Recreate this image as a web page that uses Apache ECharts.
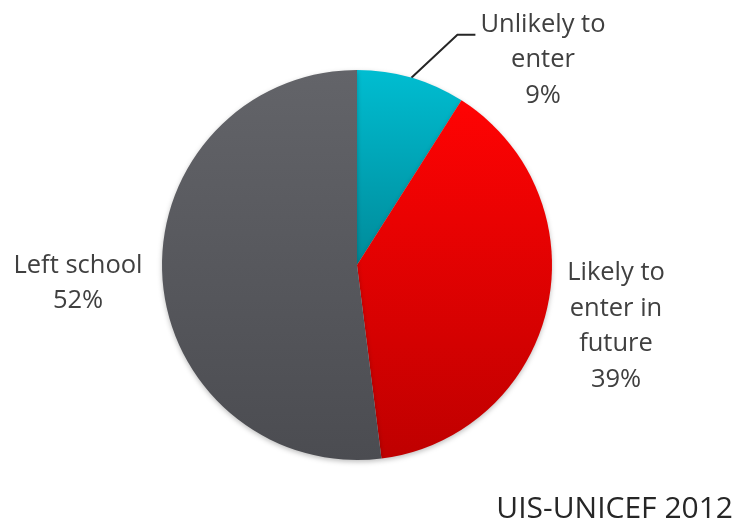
<!DOCTYPE html>
<html>
<head>
<meta charset="utf-8">
<script src="https://cdn.jsdelivr.net/npm/echarts@6/dist/echarts.min.js"></script>
<style>
  html, body { margin: 0; padding: 0; background: #ffffff; }
  #chart { width: 738px; height: 525px; }
</style>
</head>
<body>
<div id="chart"></div>
<script>
// Out-of-school children by likelihood of entering school
const categories = ['Unlikely to\nenter', 'Likely to\nenter in\nfuture', 'Left school'];
const shares = [9, 39, 52];
const sourceNote = 'UIS-UNICEF 2012';

// Slice colours: top and bottom stops of each vertical gradient
const sliceTop = ['#00bdd1', '#ff0303', '#636469'];
const sliceBottom = ['#008a99', '#bf0000', '#4b4c51'];

// Label centres for each slice
const labelSpots = [[543, 60], [616, 326], [78, 283]];

const chart = echarts.init(document.getElementById('chart'), null, { renderer: 'canvas' });

const data = categories.map((name, i) => ({
  name: name,
  value: shares[i],
  itemStyle: {
    color: new echarts.graphic.LinearGradient(0, 0, 0, 1, [
      { offset: 0, color: sliceTop[i] },
      { offset: 1, color: sliceBottom[i] }
    ])
  },
  labelLine: { show: i === 0 }
}));

chart.setOption({
  animation: false,
  backgroundColor: '#ffffff',
  series: [{
    type: 'pie',
    center: [357, 265],
    radius: 195,
    startAngle: 90,
    clockwise: true,
    data: data,
    itemStyle: {
      borderWidth: 0,
      shadowBlur: 5,
      shadowOffsetY: 2,
      shadowColor: 'rgba(0,0,0,0.25)'
    },
    label: {
      show: true,
      position: 'outside',
      formatter: '{b}\n{d}%',
      fontFamily: 'Open Sans',
      fontSize: 25.5,
      lineHeight: 35.5,
      color: '#404040',
      align: 'center',
      overflow: 'none',
      width: 200
    },
    labelLine: {
      show: false,
      length: 20,
      length2: 20,
      lineStyle: { color: '#262626', width: 2 }
    },
    labelLayout: function (params) {
      const spot = labelSpots[params.dataIndex];
      const out = { x: spot[0], y: spot[1], align: 'center', verticalAlign: 'middle' };
      if (params.dataIndex === 0 && params.labelLinePoints) {
        const p0 = params.labelLinePoints[0];
        out.labelLinePoints = [
          [p0[0], p0[1]],
          [p0[0] + 46, p0[1] - 43],
          [p0[0] + 64, p0[1] - 43]
        ];
      }
      return out;
    }
  }],
  graphic: [{
    type: 'text',
    right: 5,
    bottom: 1,
    style: {
      text: sourceNote,
      fontFamily: 'Open Sans',
      fontSize: 30,
      fill: '#262626'
    }
  }]
});
</script>
</body>
</html>
